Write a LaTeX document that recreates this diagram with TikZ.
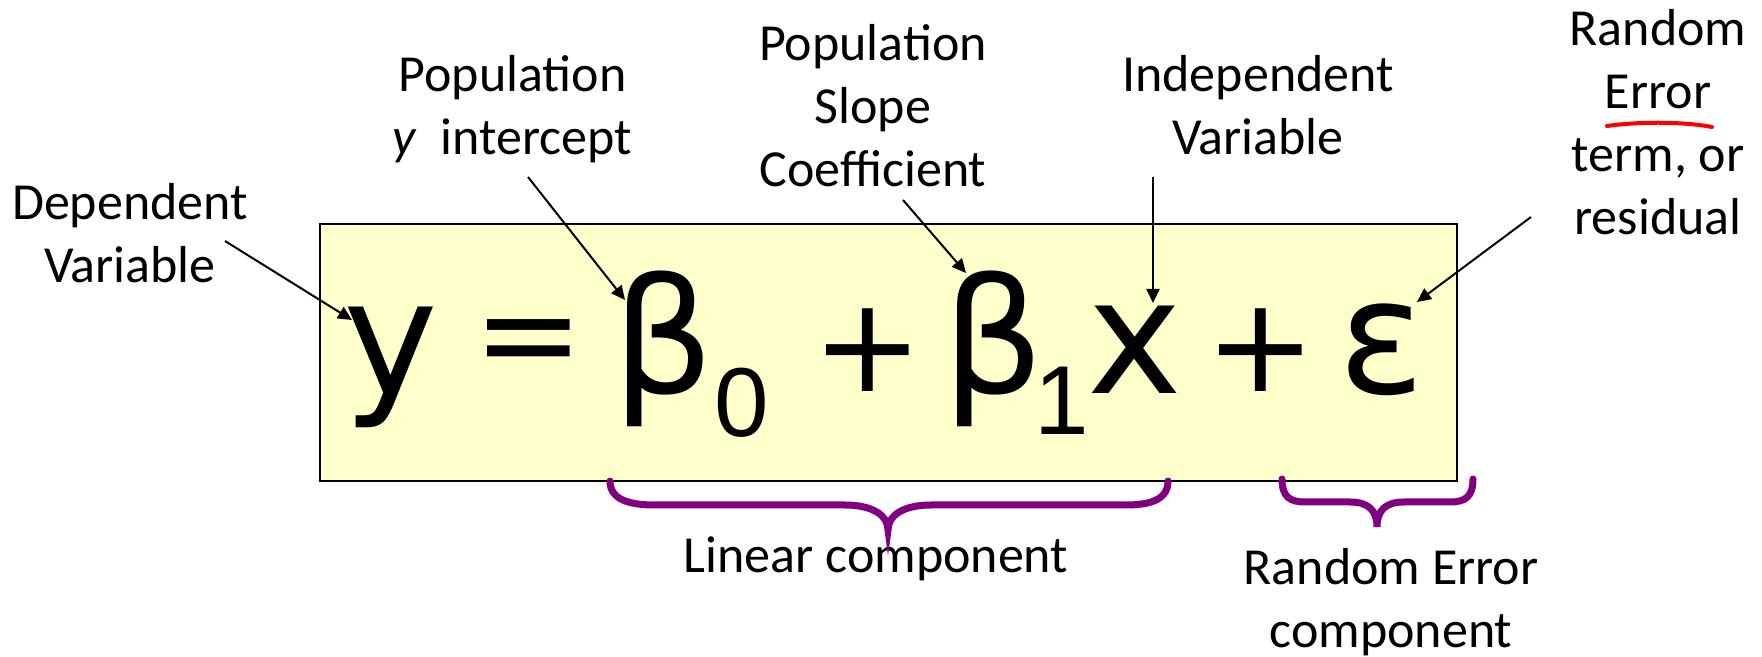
\documentclass[tikz,border=0pt]{standalone}
\usepackage{fontspec}
\setmainfont{Carlito}
\newfontfamily\eqfont{DejaVu Sans}
\newfontfamily\subfont{Liberation Sans}
\usetikzlibrary{arrows.meta}
\definecolor{boxfill}{HTML}{FFFFCC}
\definecolor{bracepurple}{HTML}{800080}
\tikzset{
  lbl/.style={font=\fontsize{26}{31.5}\selectfont, align=center, inner sep=0pt, anchor=base},
  glyph/.style={font=\eqfont\fontsize{80}{80}\selectfont, inner sep=0pt, anchor=center},
  symb/.style={font=\eqfont\fontsize{66}{66}\selectfont, inner sep=0pt, anchor=center},
  subg/.style={font=\subfont\fontsize{49}{49}\selectfont, inner sep=0pt, anchor=center},
  arr/.style={line width=1pt, -{Triangle[length=7pt,width=6.5pt]}},
  brace/.style={line width=3.5pt, bracepurple, line cap=round},
}
\begin{document}
\begin{tikzpicture}[x=0.5pt, y=-0.5pt]
\useasboundingbox (0,0) rectangle (1762,657);
% equation box
\node[draw=black, line width=1pt, fill=boxfill, minimum width=568.5pt, minimum height=128.5pt, inner sep=0pt] (eqbox) at (888.5,352.5) {};
% equation glyphs
\node[glyph] (gy) at (390.5,367) {y};
\node[symb] (geq) at (528.5,350) {=};
\node[glyph] (gb0) at (664,349) {β};
\node[subg] (gs0) at (741.5,402.5) {0};
\node[symb] (gp1) at (868,350.5) {+};
\node[glyph] (gb1) at (994,349) {β};
\node[subg] (gs1) at (1061.5,401) {1};
\node[glyph] (gx) at (1135,349.5) {x};
\node[symb] (gp2) at (1261,350.5) {+};
\node[glyph] (geps) at (1382,350) {ε};
% labels (anchor = baseline of the last line)
\node[lbl] (dep) at (130,283) {Dependent\\Variable};
\node[lbl] (icpt) at (512.5,155) {Population\\\textit{y}\ \ intercept};
\node[lbl] (slope) at (873,187) {Population\\Slope\\Coefficient};
\node[lbl] (indep) at (1258,155) {Independent\\Variable};
\node[lbl] (resid) at (1658,235) {Random\\Error\\term, or\\residual};
\node[lbl] (lin) at (876,573) {Linear component};
\node[lbl] (rerr) at (1391,647) {Random Error\\component};
% connector ends
\coordinate (tdep) at (225,241);
\coordinate (hdep) at (352,320);
\coordinate (ticpt) at (528,177);
\coordinate (hicpt) at (625,300);
\coordinate (tslope) at (903,200);
\coordinate (hslope) at (966,273);
\coordinate (tindep) at (1153,177);
\coordinate (hindep) at (1153,303);
\coordinate (tresid) at (1531,217);
\coordinate (hresid) at (1417,302);
\draw[arr] (tdep) -- (hdep);
\draw[arr] (ticpt) -- (hicpt);
\draw[arr] (tslope) -- (hslope);
\draw[arr] (tindep) -- (hindep);
\draw[arr] (tresid) -- (hresid);
% red underline
\draw[red, line width=2pt, line cap=round] (1607,126) .. controls (1635,122) and (1680,121) .. (1712,127);
% braces
\draw[brace] (610,481) .. controls (610,500) and (630,505) .. (655,505) -- (845,505)
  .. controls (872,505) and (888,515) .. (888,530)
  .. controls (888,515) and (904,505) .. (931,505) -- (1125,505)
  .. controls (1150,505) and (1168,500) .. (1168,481);
\draw[brace] (1282,479) .. controls (1282,497) and (1290,502) .. (1305,502) -- (1350,502)
  .. controls (1368,502) and (1377,510) .. (1377,527)
  .. controls (1377,510) and (1386,502) .. (1404,502) -- (1450,502)
  .. controls (1465,502) and (1473,497) .. (1473,479);
\end{tikzpicture}
\end{document}
